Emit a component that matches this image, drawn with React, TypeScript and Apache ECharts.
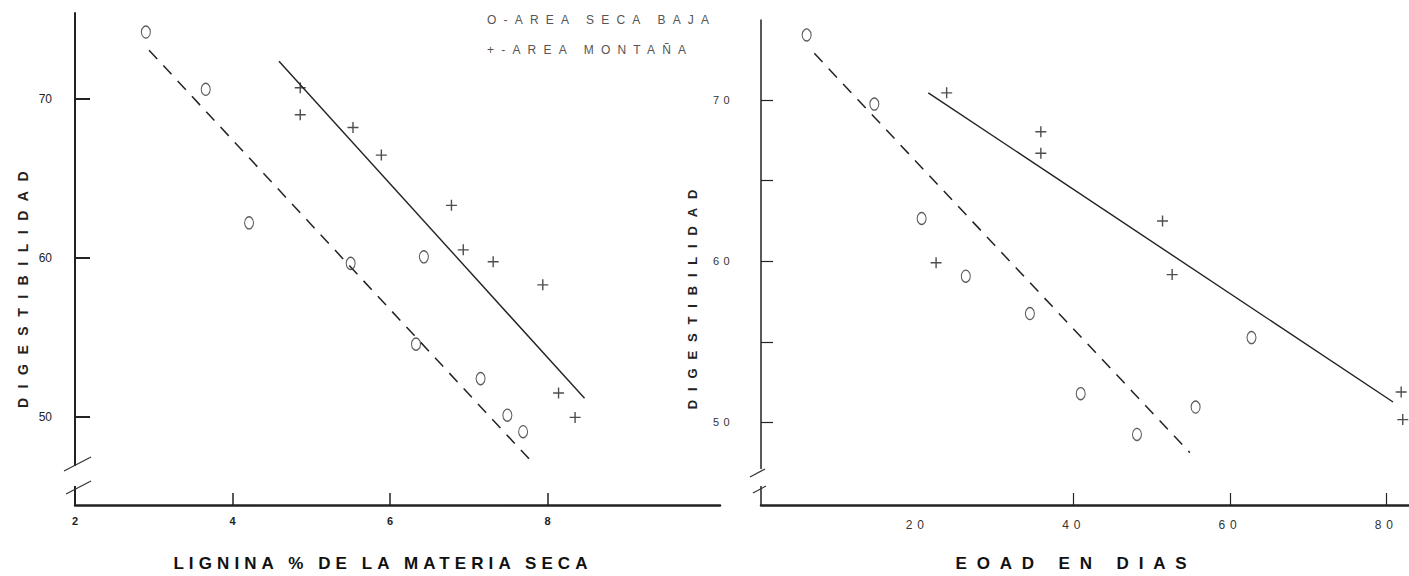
import React, { useEffect, useRef } from "react";
import * as echarts from "echarts";

// ---- Data: left panel (Lignina % de la materia seca) ----
const secaLigX = [2.9, 3.66, 4.21, 5.5, 6.43, 6.33, 7.15, 7.49, 7.69];
const secaLigY = [74.2, 70.6, 62.2, 59.65, 60.06, 54.57, 52.4, 50.1, 49.06];
const montLigX = [4.86, 4.86, 5.53, 5.89, 6.78, 6.93, 7.31, 7.94, 8.14, 8.35];
const montLigY = [70.7, 69.0, 68.2, 66.46, 63.3, 60.5, 59.75, 58.3, 51.5, 49.96];
const secaLigFitX = [2.94, 7.8];
const secaLigFitY = [73.06, 47.17];
const montLigFitX = [4.59, 8.47];
const montLigFitY = [72.37, 51.16];

// ---- Data: right panel (EOAD en días) ----
const secaEoadX = [5.84, 14.5, 20.55, 26.2, 34.4, 40.9, 48.1, 55.6, 62.75];
const secaEoadY = [74.04, 69.75, 62.65, 59.07, 56.75, 51.78, 49.25, 50.95, 55.26];
const montEoadX = [23.75, 22.4, 35.8, 35.8, 51.37, 52.6, 81.9, 82.1];
const montEoadY = [70.45, 59.9, 68.03, 66.7, 62.5, 59.17, 51.88, 50.17];
const secaEoadFitX = [6.82, 54.86];
const secaEoadFitY = [72.9, 48.12];
const montEoadFitX = [21.4, 80.86];
const montEoadFitY = [70.45, 51.26];

// ---- Tick labels ----
const ligTickLabels = [2, 4, 6, 8];
const ligTicks = [4, 6, 8];
const eoadTickLabels = [20, 40, 60, 80];
const eoadTicks = [40, 60, 80];
const yLabels = [50, 60, 70];
const yTicksLeft = [50, 60, 70];
const yTicksRight = [50, 55, 60, 65, 70];

const legendSeca = "O-AREA SECA BAJA";
const legendMont = "+-AREA MONTAÑA";
const yTitle = "DIGESTIBILIDAD";
const xTitleLeft = "LIGNINA % DE LA MATERIA SECA";
const xTitleRight = "EOAD EN DIAS";

const FONT = '"Liberation Sans", Arial, Helvetica, sans-serif';
const INK = "#222";

const zip = (xs: number[], ys: number[]) => xs.map((x, i) => [x, ys[i]]);

const PLUS = "path://M5,0 L5,10 M0,5 L10,5";

function applySpacing(root: HTMLElement) {
  root.querySelectorAll("text").forEach((el) => {
    const t = (el.textContent || "").trim();
    let ls = "";
    if (t === yTitle) ls = "0.68em";
    else if (t === legendSeca || t === legendMont) ls = "0.6em";
    else if (t === xTitleLeft) ls = "0.3em";
    else if (t === xTitleRight) ls = "0.58em";
    else if (/^\d+$/.test(t)) {
      const r = (el as any).getBoundingClientRect();
      if (r.left > 700) ls = "0.4em";
    }
    if (ls) (el as any).style.letterSpacing = ls;
  });
}

export default function App() {
  const ref = useRef<HTMLDivElement>(null);

  useEffect(() => {
    document.body.style.margin = "0";
    if (!ref.current) return;
    const chart = echarts.init(ref.current, null, { renderer: "svg" });

    const axisCommon = {
      type: "value",
      splitLine: { show: false },
    };

    const scatterCircle = (xi: number, data: number[][]) => ({
      type: "scatter",
      xAxisIndex: xi,
      yAxisIndex: xi,
      silent: true,
      symbol: "circle",
      symbolSize: [9, 12],
      itemStyle: { color: "rgba(0,0,0,0)", borderColor: "#333", borderWidth: 1.2 },
      data,
      z: 5,
    });
    const scatterPlus = (xi: number, data: number[][]) => ({
      type: "scatter",
      xAxisIndex: xi,
      yAxisIndex: xi,
      silent: true,
      symbol: PLUS,
      symbolSize: 11,
      itemStyle: { color: "rgba(0,0,0,0)", borderColor: INK, borderWidth: 1.4 },
      data,
      z: 5,
    });
    const fitLine = (xi: number, data: number[][], dashed: boolean) => ({
      type: "line",
      xAxisIndex: xi,
      yAxisIndex: xi,
      silent: true,
      showSymbol: false,
      symbol: "none",
      data,
      lineStyle: dashed
        ? { color: INK, width: 1.5, type: [12, 9] }
        : { color: INK, width: 1.4, type: "solid" },
      z: 4,
    });

    const textStyle = (text: string, fontSize: number, weight: string, fill: string, align: string) => ({
      text,
      fontSize,
      fontWeight: weight,
      fontFamily: FONT,
      fill,
      align,
      textAlign: align,
      verticalAlign: "middle",
      textVerticalAlign: "middle",
    });

    const option: any = {
      animation: false,
      grid: [
        { left: 75, top: 13, width: 645, height: 492 },
        { left: 761, top: 20, width: 648, height: 485 },
      ],
      xAxis: [
        {
          ...axisCommon,
          gridIndex: 0,
          min: 2,
          max: 10.19,
          axisLine: { show: true, lineStyle: { color: INK, width: 2.5 } },
          axisTick: {
            show: true,
            inside: true,
            length: 12,
            customValues: ligTicks,
            lineStyle: { color: INK, width: 1.5 },
          },
          axisLabel: {
            show: true,
            customValues: ligTickLabels,
            margin: 10,
            fontSize: 11,
            fontWeight: "bold",
            color: "#222",
            fontFamily: FONT,
          },
        },
        {
          ...axisCommon,
          gridIndex: 1,
          min: 0,
          max: 82.9,
          axisLine: { show: true, lineStyle: { color: INK, width: 2.5 } },
          axisTick: {
            show: true,
            inside: true,
            length: 12,
            customValues: eoadTicks,
            lineStyle: { color: INK, width: 1.2 },
          },
          axisLabel: {
            show: true,
            customValues: eoadTickLabels,
            margin: 14,
            fontSize: 12,
            color: "#333",
            fontFamily: FONT,
          },
        },
      ],
      yAxis: [
        {
          ...axisCommon,
          gridIndex: 0,
          min: 44.45,
          max: 75.4,
          axisLine: { show: true, lineStyle: { color: INK, width: 2 } },
          axisTick: {
            show: true,
            inside: true,
            length: 15,
            customValues: yTicksLeft,
            lineStyle: { color: INK, width: 2 },
          },
          axisLabel: {
            show: true,
            customValues: yLabels,
            margin: 23,
            fontSize: 12,
            color: "#222",
            fontFamily: FONT,
          },
        },
        {
          ...axisCommon,
          gridIndex: 1,
          min: 44.87,
          max: 74.97,
          axisLine: { show: true, lineStyle: { color: INK, width: 1.5 } },
          axisTick: {
            show: true,
            inside: true,
            length: 12,
            customValues: yTicksRight,
            lineStyle: { color: INK, width: 1.2 },
          },
          axisLabel: {
            show: true,
            customValues: yLabels,
            margin: 27,
            fontSize: 11,
            color: "#333",
            fontFamily: FONT,
          },
        },
      ],
      series: [
        scatterCircle(0, zip(secaLigX, secaLigY)),
        scatterPlus(0, zip(montLigX, montLigY)),
        fitLine(0, zip(secaLigFitX, secaLigFitY), true),
        fitLine(0, zip(montLigFitX, montLigFitY), false),
        scatterCircle(1, zip(secaEoadX, secaEoadY)),
        scatterPlus(1, zip(montEoadX, montEoadY)),
        fitLine(1, zip(secaEoadFitX, secaEoadFitY), true),
        fitLine(1, zip(montEoadFitX, montEoadFitY), false),
      ],
      graphic: [
        { type: "text", x: 487, y: 20, z: 100, style: textStyle(legendSeca, 12, "normal", "#555", "left") },
        { type: "text", x: 487, y: 50, z: 100, style: textStyle(legendMont, 12, "normal", "#555", "left") },
        {
          type: "text",
          x: 23,
          y: 285,
          rotation: Math.PI / 2,
          z: 100,
          style: textStyle(yTitle, 14, "bold", "#222", "center"),
        },
        {
          type: "text",
          x: 692,
          y: 295,
          rotation: Math.PI / 2,
          z: 100,
          style: textStyle(yTitle, 13, "bold", "#222", "center"),
        },
        { type: "text", x: 383, y: 563, z: 100, style: textStyle(xTitleLeft, 17, "bold", "#111", "center") },
        { type: "text", x: 1076, y: 563, z: 100, style: textStyle(xTitleRight, 17, "bold", "#111", "center") },
        // axis break marks (left)
        { type: "rect", z: 100, shape: { x: 70, y: 466, width: 10, height: 20 }, style: { fill: "#fff" } },
        { type: "line", z: 101, shape: { x1: 64, y1: 471, x2: 91, y2: 457 }, style: { stroke: "#333", lineWidth: 1.2 } },
        { type: "line", z: 101, shape: { x1: 66, y1: 494, x2: 91, y2: 481 }, style: { stroke: "#333", lineWidth: 1.2 } },
        // axis break marks (right)
        { type: "rect", z: 100, shape: { x: 755, y: 469, width: 10, height: 17 }, style: { fill: "#fff" } },
        { type: "line", z: 101, shape: { x1: 750, y1: 477, x2: 765, y2: 469 }, style: { stroke: "#333", lineWidth: 1.2 } },
        { type: "line", z: 101, shape: { x1: 753, y1: 493, x2: 766, y2: 486 }, style: { stroke: "#333", lineWidth: 1.2 } },
      ],
    };

    chart.setOption(option);
    const el = ref.current;
    const apply = () => applySpacing(el);
    apply();
    chart.on("finished", apply);
    const raf = requestAnimationFrame(apply);
    const tm = setTimeout(apply, 50);

    return () => {
      cancelAnimationFrame(raf);
      clearTimeout(tm);
      chart.dispose();
    };
  }, []);

  return <div ref={ref} style={{ width: 1409, height: 576 }} />;
}
